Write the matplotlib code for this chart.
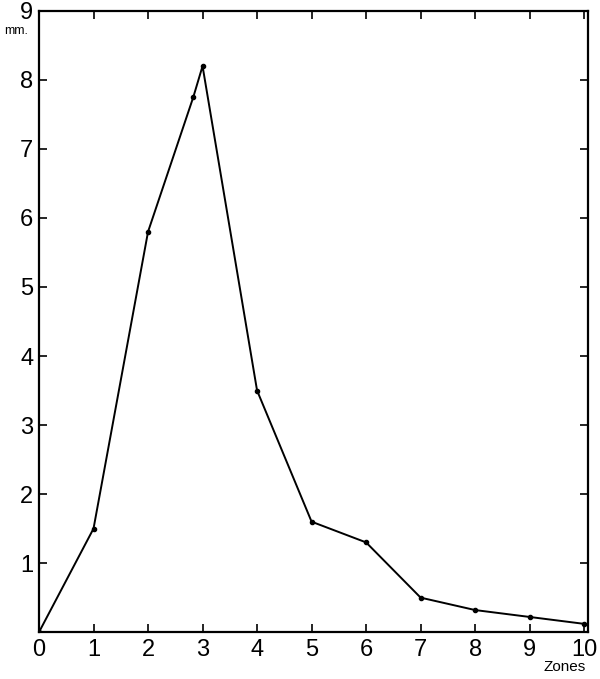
import matplotlib
matplotlib.use("Agg")
import matplotlib.pyplot as plt

plt.rcParams["font.family"] = ["Liberation Sans", "DejaVu Sans"]

zones = [0, 1, 2, 2.83, 3, 4, 5, 6, 7, 8, 9, 10]
mm = [0.0, 1.5, 5.8, 7.75, 8.2, 3.5, 1.6, 1.3, 0.5, 0.32, 0.22, 0.12]
xticks = list(range(0, 11))
yticks = list(range(1, 10))

fig = plt.figure(figsize=(6, 6.79), dpi=100)
ax = fig.add_axes([0.065, 0.069, 0.915, 0.915])

ax.plot(zones, mm, color="black", lw=1.4, marker="o", markersize=3)

ax.set_xlim(0, 10.07)
ax.set_ylim(0, 9)
ax.set_xticks(xticks)
ax.set_yticks(yticks)
ax.tick_params(direction="in", length=6, width=1.2, labelsize=17,
               top=True, right=True, pad=4)
ax.tick_params(axis="x", pad=5)
for s in ax.spines.values():
    s.set_linewidth(1.6)

ax.text(-0.2, 8.8, "mm.", fontsize=9, ha="right", va="top")
ax.text(10.02, -0.4, "Zones", fontsize=11, ha="right", va="top")

fig.savefig("out.png", dpi=100)
